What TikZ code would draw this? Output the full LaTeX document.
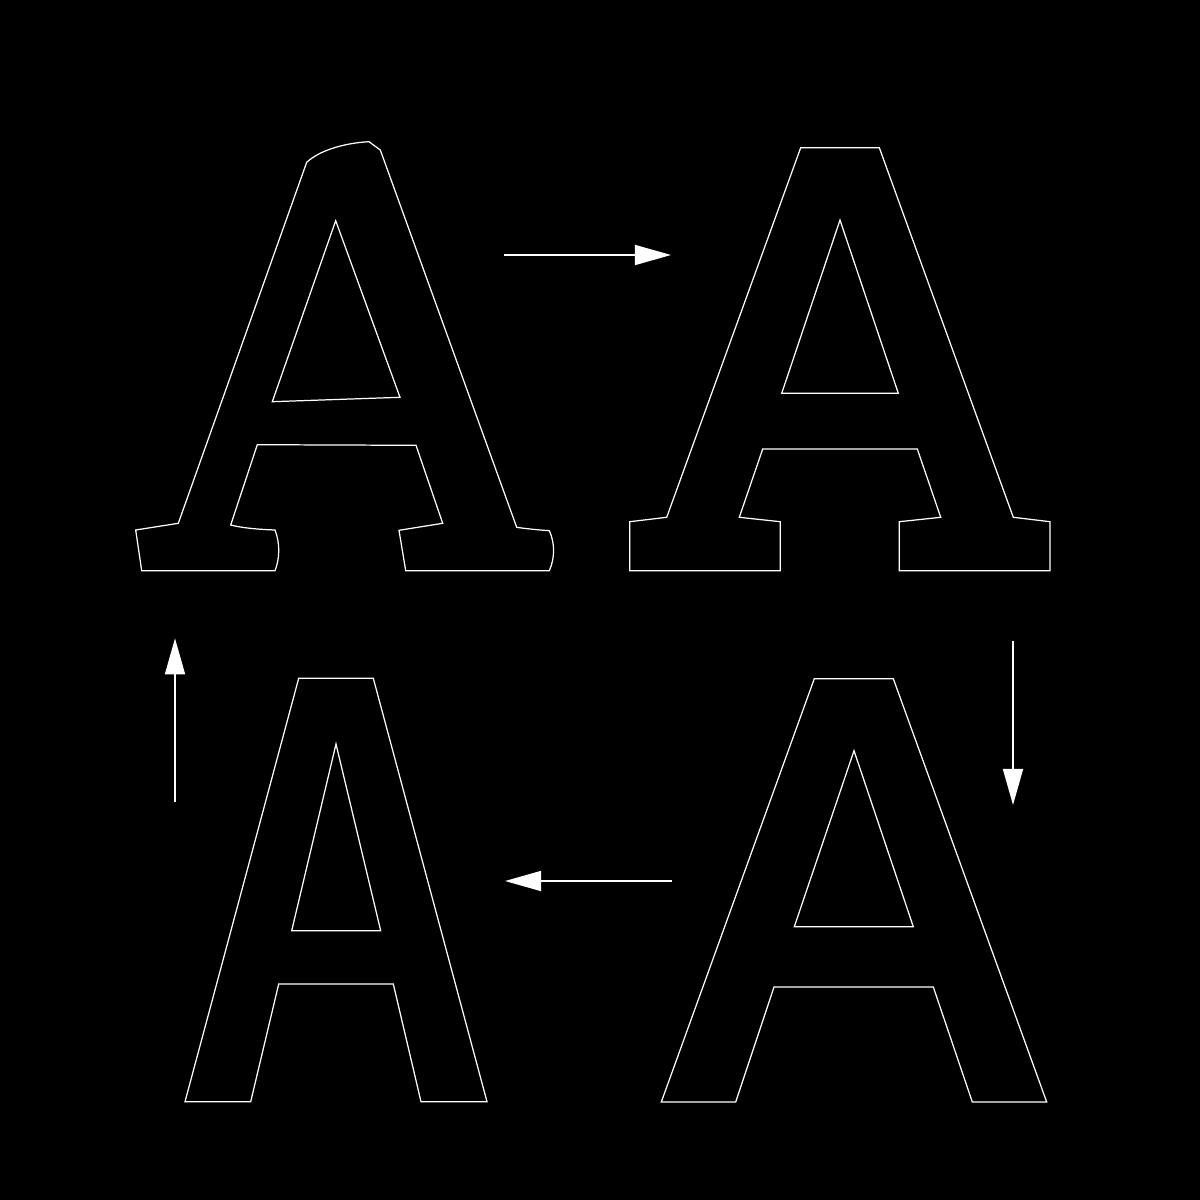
\documentclass[tikz,border=0pt]{standalone}
\usepackage{tikz}
\usetikzlibrary{calc}
\usetikzlibrary{arrows.meta}
\tikzset{
    glyph/.style = {draw=white, line width=0.35pt, line join=miter},
    arrow/.style = {draw=white, line width=0.45pt,
        -{Triangle[length=3.6mm, width=2mm]}},
    backdrop/.style = {fill=black}
}

\begin{document}
\begin{tikzpicture}[x=0.01cm, y=-0.01cm]
            \fill [backdrop] (0,0) rectangle (1200,1200);
            \useasboundingbox (0,0) rectangle (1200,1200);

            % slab A, rough
            \draw [glyph] (306.7,162.3) .. controls (320,150) and (345,143) .. (369,141.7)
                -- (380.3,150) -- (516.7,527.3) .. controls (528,529) and (540,530) .. (549.3,530.7)
                .. controls (555,543) and (555,558) .. (549.3,570.7) -- (405.7,570.7)
                -- (399,530.3) -- (442.7,523.3) -- (416,445.3) -- (257.3,444.7)
                -- (230.7,525) .. controls (242,528) and (260,529.5) .. (275,530)
                .. controls (280,543) and (280,558) .. (275,570.7) -- (141.7,570.7)
                -- (135.7,530) -- (178.3,523.3) -- cycle;
            \draw [glyph] (335.7,220.7) -- (400,397.3) -- (272.3,401.7) -- cycle;

            % slab A, clean
            \draw [glyph] (800.7,147.7) -- (879.3,147.7) -- (1013.3,517.3) -- (1050,521.7)
                -- (1050,570.7) -- (899.3,570.7) -- (899.3,521.7) -- (940.7,517.3)
                -- (917.3,449) -- (762.7,449) -- (739.3,517.3) -- (780.3,521.7)
                -- (780.3,570.7) -- (629.7,570.7) -- (629.7,521.7) -- (666.7,517.3) -- cycle;
            \draw [glyph] (840,220) -- (898.3,393.3) -- (781.7,393.3) -- cycle;

            % sans A, wide
            \draw [glyph] (814.3,678.7) -- (893.3,678.7) -- (1046.7,1102) -- (972.3,1102)
                -- (933.3,987) -- (774,987) -- (735.7,1102) -- (661.3,1102) -- cycle;
            \draw [glyph] (854,750.7) -- (913.3,926.7) -- (794.3,926.7) -- cycle;

            % sans A, narrow
            \draw [glyph] (298.7,678.3) -- (373.3,678.3) -- (487,1101.7) -- (421,1101.7)
                -- (393.3,984) -- (278.7,984) -- (250.7,1101.7) -- (185,1101.7) -- cycle;
            \draw [glyph] (336,744) -- (380.7,930.7) -- (291.7,930.7) -- cycle;

            % arrows
            \coordinate (rightfrom) at (504.3,255);
            \coordinate (rightto) at (671,255);
            \coordinate (downfrom) at (1013,640.7);
            \coordinate (downto) at (1013,805);
            \coordinate (leftfrom) at (672.3,881);
            \coordinate (leftto) at (505,881);
            \coordinate (upfrom) at (175,802.3);
            \coordinate (upto) at (175,638.3);

            \draw [arrow] (rightfrom) -- (rightto);
            \draw [arrow] (downfrom) -- (downto);
            \draw [arrow] (leftfrom) -- (leftto);
            \draw [arrow] (upfrom) -- (upto);
        \end{tikzpicture}
\end{document}
